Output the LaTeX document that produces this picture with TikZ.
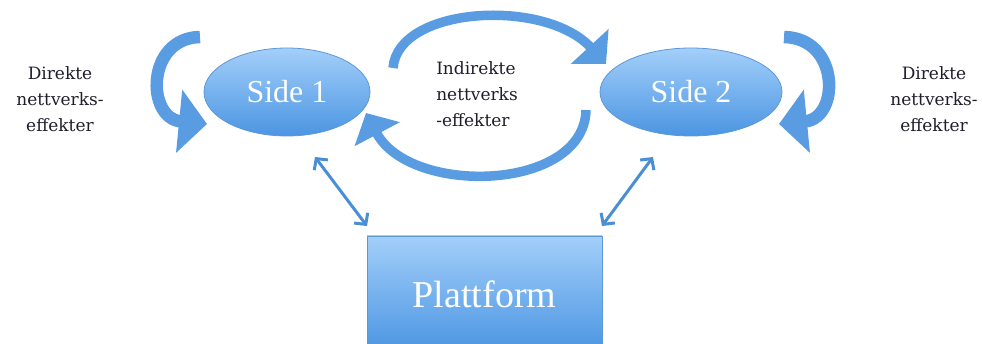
\documentclass[tikz,border=0pt]{standalone}
\usepackage{fontspec}
\setmainfont{Liberation Serif}
\newfontfamily\smallserif{DejaVu Serif}
\usetikzlibrary{arrows.meta,shapes.geometric}
\definecolor{ltop}{HTML}{A3CFFA}
\definecolor{lbot}{HTML}{4B95E2}
\definecolor{lborder}{HTML}{5E97D6}
\definecolor{arrowc}{HTML}{5A9CE2}
\definecolor{dblc}{HTML}{4A8ED5}
\definecolor{txtc}{HTML}{1E1E2C}
\tikzset{
  sidebox/.style={ellipse, draw=lborder, line width=0.8pt, top color=ltop, bottom color=lbot,
    inner sep=0pt, text=white, font=\fontsize{32}{36}\selectfont},
  platbox/.style={rectangle, draw=lborder, line width=0.8pt, top color=ltop, bottom color=lbot,
    inner sep=0pt, text=white, font=\fontsize{38}{42}\selectfont},
  labeltext/.style={text=txtc, align=center, font=\smallserif\fontsize{17}{26}\selectfont},
  blockarrow/.style={draw=arrowc, line width=9.5pt, -{Triangle[length=24pt,width=50pt]}},
  loopblock/.style={draw=arrowc, line width=12.5pt, -{Triangle[length=28pt,width=62pt]}},
  dblarrow/.style={draw=dblc, line width=3pt, {Straight Barb[length=8pt,width=17pt]}-{Straight Barb[length=8pt,width=17pt]}}
}
\begin{document}
\begin{tikzpicture}[x=1pt,y=-1pt]
\useasboundingbox (0,0) rectangle (982,344);
\clip (0,0) rectangle (982,344);
% nodes
\node[sidebox, minimum width=166pt, minimum height=88pt] (s1) at (287,92) {Side 1};
\node[sidebox, minimum width=182pt, minimum height=88pt] (s2) at (691,92) {Side 2};
\node[platbox, minimum width=235pt, minimum height=116pt] (pl) at (484.5,294) {Plattform};
\node[labeltext] (dl) at (60,99) {Direkte\\nettverks-\\effekter};
\node[labeltext] (dr) at (934,99) {Direkte\\nettverks-\\effekter};
\node[labeltext, align=left] (ind) at (477,94) {Indirekte\\nettverks\\-effekter};
% coordinates for arrow ends
\coordinate (l1s) at (200,37);
\coordinate (l1e) at (207,124);
\coordinate (l2s) at (784,37);
\coordinate (l2e) at (779,124);
\coordinate (t1s) at (393,68);
\coordinate (t1e) at (606,64);
\coordinate (b1s) at (586,110);
\coordinate (b1e) at (366,113);
\coordinate (d1a) at (315,157);
\coordinate (d1b) at (367,226);
\coordinate (d2a) at (653,157);
\coordinate (d2b) at (602,226);
% self loops
\draw[loopblock] (l1s) .. controls (146,38) and (146,118) .. (l1e);
\draw[loopblock] (l2s) .. controls (840,38) and (840,118) .. (l2e);
% indirect arcs
\draw[blockarrow] (t1s) .. controls (398,6) and (545,-2) .. (t1e);
\draw[blockarrow] (b1s) .. controls (584,192) and (410,196) .. (b1e);
% platform links
\draw[dblarrow] (d1a) -- (d1b);
\draw[dblarrow] (d2a) -- (d2b);
\end{tikzpicture}
\end{document}
